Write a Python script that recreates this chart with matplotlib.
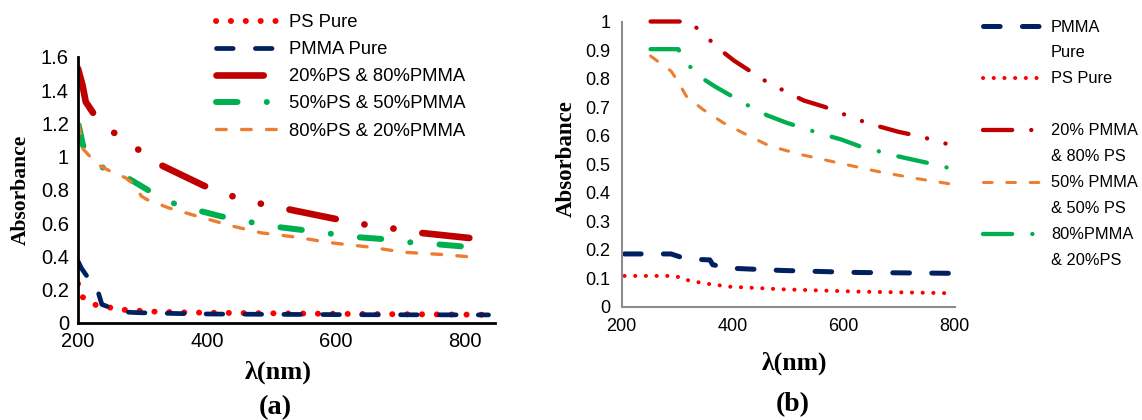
import matplotlib
matplotlib.use("Agg")
import matplotlib.pyplot as plt
from matplotlib.lines import Line2D

plt.rcParams["lines.scale_dashes"] = False

# ---- panel (a) data ----
wl_ps_a = [200, 205, 224, 247, 269, 290, 315, 360, 450, 550, 650, 750, 830]
abs_ps_a = [0.235, 0.16, 0.11, 0.093, 0.078, 0.073, 0.067, 0.062, 0.058, 0.055, 0.052, 0.05, 0.048]

wl_pmma_a = [200, 205, 212, 230, 237, 268, 295, 356, 412, 523, 650, 836]
abs_pmma_a = [0.37, 0.33, 0.29, 0.2, 0.11, 0.065, 0.06, 0.055, 0.052, 0.05, 0.048, 0.047]

wl_20_a = [200, 207, 212, 224, 257, 289, 320, 395, 436, 479, 523, 605, 646, 692, 733, 819]
abs_20_a = [1.53, 1.43, 1.33, 1.26, 1.14, 1.055, 0.965, 0.825, 0.765, 0.72, 0.685, 0.62,
            0.59, 0.565, 0.54, 0.505]

wl_50_a = [201, 208, 235, 276, 337, 380, 420, 461, 502, 544, 584, 626, 668, 708, 751, 793, 817]
abs_50_a = [1.19, 1.065, 0.94, 0.874, 0.732, 0.682, 0.642, 0.61, 0.58, 0.56, 0.54, 0.517,
            0.505, 0.486, 0.474, 0.46, 0.45]

wl_80_a = [201, 208, 220, 234, 254, 273, 287, 298, 306, 340, 384, 440, 484, 534, 595, 650,
           706, 767, 814]
abs_80_a = [1.197, 1.045, 0.995, 0.945, 0.904, 0.874, 0.834, 0.763, 0.743, 0.692, 0.642,
            0.581, 0.541, 0.517, 0.48, 0.456, 0.424, 0.41, 0.394]

labels_a = ["PS Pure", "PMMA Pure", "20%PS & 80%PMMA", "50%PS & 50%PMMA", "80%PS & 20%PMMA"]

# ---- panel (b) data ----
wl_pmma_b = [205, 289, 306, 336, 359, 364, 396, 490, 625, 800]
abs_pmma_b = [0.185, 0.185, 0.174, 0.166, 0.164, 0.147, 0.135, 0.127, 0.12, 0.117]

wl_ps_b = [205, 289, 306, 322, 356, 396, 490, 625, 800]
abs_ps_b = [0.108, 0.108, 0.103, 0.091, 0.08, 0.07, 0.061, 0.053, 0.047]

wl_20_b = [252, 322, 348, 376, 403, 464, 497, 528, 565, 628, 662, 699, 736, 800]
abs_20_b = [1.0, 1.0, 0.955, 0.903, 0.862, 0.785, 0.753, 0.723, 0.701, 0.654, 0.633, 0.613,
            0.598, 0.563]

wl_50_b = [252, 289, 301, 316, 346, 383, 430, 467, 524, 591, 659, 726, 800]
abs_50_b = [0.879, 0.826, 0.791, 0.739, 0.692, 0.645, 0.598, 0.563, 0.533, 0.504, 0.475,
            0.451, 0.428]

wl_80_b = [252, 302, 312, 337, 369, 430, 462, 497, 558, 596, 628, 696, 733, 766, 800]
abs_80_b = [0.903, 0.903, 0.867, 0.811, 0.771, 0.703, 0.671, 0.645, 0.607, 0.586, 0.563,
            0.528, 0.512, 0.498, 0.481]

# legend rows of (b): second lines of the labels sit on rows with no handle
labels_b = ["PMMA", "Pure", "PS Pure", "", "20% PMMA", "& 80% PS",
            "50% PMMA", "& 50% PS", "80%PMMA", "& 20%PS"]

c_red = "#FF0000"
c_dark = "#C00000"
c_navy = "#002060"
c_green = "#00B050"
c_orange = "#ED7D31"

sans = "Liberation Sans"
serif = "Liberation Serif"
W, H = 1142, 420

fig = plt.figure(figsize=(11.42, 4.2), dpi=100)
kw = dict(solid_capstyle="round", dash_capstyle="round")

# ---------------- (a) ----------------
ax1 = fig.add_axes([78 / W, 1 - 322.7 / H, 417 / W, 265.7 / H])
h1, = ax1.plot(wl_ps_a, abs_ps_a, color=c_red, lw=4.3, linestyle=(0, (0.1, 10.6)), **kw)
h2, = ax1.plot(wl_pmma_a, abs_pmma_a, color=c_navy, lw=3.4, linestyle=(0, (12, 16)), **kw)
h3, = ax1.plot(wl_20_a, abs_20_a, color=c_dark, lw=4.8,
               linestyle=(0, (34, 21, 0.1, 21, 0.1, 21)), **kw)
h4, = ax1.plot(wl_50_a, abs_50_a, color=c_green, lw=4.3,
               linestyle=(0, (15.5, 21, 0.1, 21)), **kw)
h5, = ax1.plot(wl_80_a, abs_80_a, color=c_orange, lw=2.4, linestyle=(0, (7, 11)), **kw)
ax1.set_xlim(200, 846)
ax1.set_ylim(0, 1.6)
ax1.set_xticks([200, 400, 600, 800])
ax1.set_yticks([0, 0.2, 0.4, 0.6, 0.8, 1.0, 1.2, 1.4, 1.6])
ax1.set_yticklabels(["0", "0.2", "0.4", "0.6", "0.8", "1", "1.2", "1.4", "1.6"])
for s in ["top", "right"]:
    ax1.spines[s].set_visible(False)
for s in ["left", "bottom"]:
    ax1.spines[s].set_linewidth(2)
ax1.tick_params(length=0, labelsize=14.5)
ax1.tick_params(axis="x", pad=7)
ax1.tick_params(axis="y", pad=6.5)
for t in ax1.get_xticklabels() + ax1.get_yticklabels():
    t.set_family(sans)
fig.text(20.7 / W, 1 - 190 / H, "Absorbance", rotation=90, fontsize=15.5,
         fontweight="bold", family=serif, ha="center", va="center")
fig.text(278 / W, 1 - 372 / H, "λ(nm)", fontsize=19, fontweight="bold", family=serif,
         ha="center", va="center")
fig.text(275 / W, 1 - 408 / H, "(a)", fontsize=20.5, fontweight="bold", family=serif,
         ha="center", va="center")
fig.legend([h1, h2, h3, h4, h5], labels_a, loc="upper left",
           bbox_to_anchor=(216 / W, 1 - 14 / H), frameon=False,
           prop={"family": sans, "size": 13.3}, handlelength=3.25,
           handletextpad=0.7, labelspacing=0.55, borderpad=0, borderaxespad=0)

# ---------------- (b) ----------------
ax2 = fig.add_axes([621.7 / W, 1 - 306.7 / H, 333 / W, 285.2 / H])
g1, = ax2.plot(wl_pmma_b, abs_pmma_b, color=c_navy, lw=3.6, linestyle=(0, (12, 16)), **kw)
g2, = ax2.plot(wl_ps_b, abs_ps_b, color=c_red, lw=2.9, linestyle=(0, (0.1, 7.6)), **kw)
g3, = ax2.plot(wl_20_b, abs_20_b, color=c_dark, lw=3.1,
               linestyle=(0, (21, 13.7, 0.1, 13.7, 0.1, 13.7)), clip_on=False, **kw)
g4, = ax2.plot(wl_50_b, abs_50_b, color=c_orange, lw=2.2, linestyle=(0, (6.2, 10.6)), **kw)
g5, = ax2.plot(wl_80_b, abs_80_b, color=c_green, lw=3.1,
               linestyle=(0, (21, 14.5, 0.1, 14.5)), **kw)
ax2.set_xlim(200, 800)
ax2.set_ylim(0, 1)
ax2.set_xticks([200, 400, 600, 800])
ax2.set_yticks([0, 0.1, 0.2, 0.3, 0.4, 0.5, 0.6, 0.7, 0.8, 0.9, 1.0])
ax2.set_yticklabels(["0", "0.1", "0.2", "0.3", "0.4", "0.5", "0.6", "0.7", "0.8", "0.9", "1"])
for s in ["top", "right"]:
    ax2.spines[s].set_visible(False)
for s in ["left", "bottom"]:
    ax2.spines[s].set_linewidth(1.5)
    ax2.spines[s].set_color("#8C8C8C")
ax2.tick_params(length=0, labelsize=13, pad=8)
for t in ax2.get_xticklabels() + ax2.get_yticklabels():
    t.set_family(sans)
fig.text(566.7 / W, 1 - 159 / H, "Absorbance", rotation=90, fontsize=16.5,
         fontweight="bold", family=serif, ha="center", va="center")
fig.text(795 / W, 1 - 363 / H, "λ(nm)", fontsize=18.5, fontweight="bold", family=serif,
         ha="center", va="center")
fig.text(793 / W, 1 - 405 / H, "(b)", fontsize=20, fontweight="bold", family=serif,
         ha="center", va="center")
blank = Line2D([], [], linestyle="none")
handles_b = [g1, blank, g2, blank, g3, blank, g4, blank, g5, blank]
fig.legend(handles_b, labels_b, loc="upper left",
           bbox_to_anchor=(983 / W, 1 - 19.5 / H), frameon=False,
           prop={"family": sans, "size": 11.8}, handlelength=3.45,
           handletextpad=0.7, labelspacing=0.67, borderpad=0, borderaxespad=0)

fig.savefig("out.png", dpi=100)
